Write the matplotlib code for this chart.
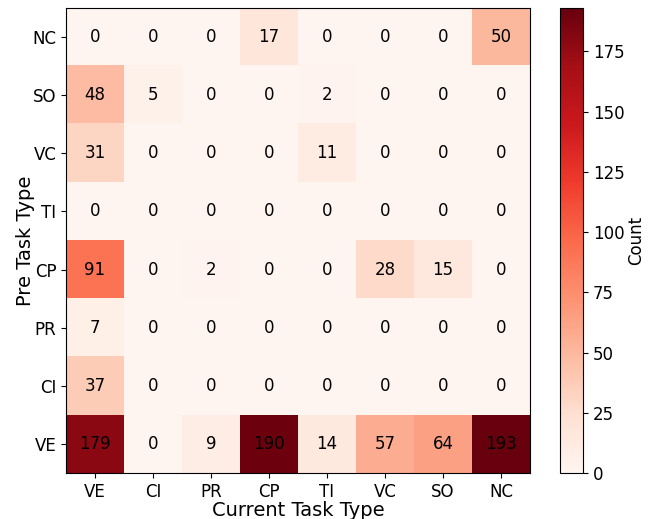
import numpy as np
import matplotlib
matplotlib.use("Agg")
import matplotlib.pyplot as plt

current_types = ["VE", "CI", "PR", "CP", "TI", "VC", "SO", "NC"]
pre_types = ["NC", "SO", "VC", "TI", "CP", "PR", "CI", "VE"]
counts = [
    [0, 0, 0, 17, 0, 0, 0, 50],
    [48, 5, 0, 0, 2, 0, 0, 0],
    [31, 0, 0, 0, 11, 0, 0, 0],
    [0, 0, 0, 0, 0, 0, 0, 0],
    [91, 0, 2, 0, 0, 28, 15, 0],
    [7, 0, 0, 0, 0, 0, 0, 0],
    [37, 0, 0, 0, 0, 0, 0, 0],
    [179, 0, 9, 190, 14, 57, 64, 193],
]

data = np.array(counts)
fig = plt.figure(figsize=(6.49, 5.19), dpi=100)
ax = fig.add_axes([66/649, 46/519, 464/649, 465/519])
im = ax.imshow(data, cmap="Reds", vmin=0, vmax=data.max(), aspect="auto")
for i in range(data.shape[0]):
    for j in range(data.shape[1]):
        ax.text(j, i, str(data[i, j]), ha="center", va="center", color="black", fontsize=12)
ax.set_xticks(range(len(current_types)))
ax.set_xticklabels(current_types, fontsize=12)
ax.set_yticks(range(len(pre_types)))
ax.set_yticklabels(pre_types, fontsize=12)
ax.set_xlabel("Current Task Type", fontsize=14, labelpad=0)
ax.set_ylabel("Pre Task Type", fontsize=14, labelpad=-2)
cax = fig.add_axes([560/649, 46/519, 23/649, 465/519])
cb = fig.colorbar(im, cax=cax)
cb.set_ticks([0, 25, 50, 75, 100, 125, 150, 175])
cb.ax.tick_params(labelsize=12)
cb.set_label("Count", fontsize=12, labelpad=2)
fig.savefig("out.png", dpi=100)
